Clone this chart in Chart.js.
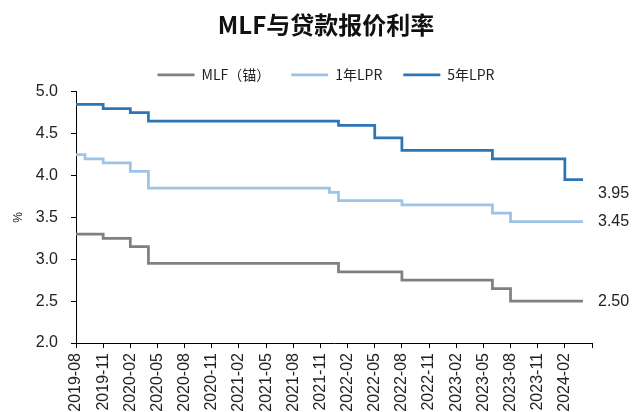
<!DOCTYPE html>
<html>
<head>
<meta charset="utf-8">
<script src="https://cdn.jsdelivr.net/npm/chart.js@4/dist/chart.umd.min.js"></script>
<style>
    body { margin: 0; background: #fff; }
</style>
</head>
<body>
<canvas id="graficaTasas" width="632" height="412"></canvas>
<script>
// Meses del eje: 2019-08 ... 2024-05 (el último sólo lleva la marca)
var meses = [];
for (var a = 2019, m = 8; a < 2024 || m <= 5; m++) {
    if (m > 12) { m = 1; a++; }
    meses.push(a + "-" + (m < 10 ? "0" + m : m));
}

// MLF (锚), mensual 2019-08 ... 2024-04
var valoresMLF = [
    3.30, 3.30, 3.30, 3.25, 3.25,
    3.25, 3.15, 3.15, 2.95, 2.95, 2.95, 2.95, 2.95, 2.95, 2.95, 2.95, 2.95,
    2.95, 2.95, 2.95, 2.95, 2.95, 2.95, 2.95, 2.95, 2.95, 2.95, 2.95, 2.95,
    2.85, 2.85, 2.85, 2.85, 2.85, 2.85, 2.85, 2.75, 2.75, 2.75, 2.75, 2.75,
    2.75, 2.75, 2.75, 2.75, 2.75, 2.65, 2.65, 2.50, 2.50, 2.50, 2.50, 2.50,
    2.50, 2.50, 2.50, 2.50
];

// 1年LPR
var valores1A = [
    4.25, 4.20, 4.20, 4.15, 4.15,
    4.15, 4.05, 4.05, 3.85, 3.85, 3.85, 3.85, 3.85, 3.85, 3.85, 3.85, 3.85,
    3.85, 3.85, 3.85, 3.85, 3.85, 3.85, 3.85, 3.85, 3.85, 3.85, 3.85, 3.80,
    3.70, 3.70, 3.70, 3.70, 3.70, 3.70, 3.70, 3.65, 3.65, 3.65, 3.65, 3.65,
    3.65, 3.65, 3.65, 3.65, 3.65, 3.55, 3.55, 3.45, 3.45, 3.45, 3.45, 3.45,
    3.45, 3.45, 3.45, 3.45
];

// 5年LPR
var valores5A = [
    4.85, 4.85, 4.85, 4.80, 4.80,
    4.80, 4.75, 4.75, 4.65, 4.65, 4.65, 4.65, 4.65, 4.65, 4.65, 4.65, 4.65,
    4.65, 4.65, 4.65, 4.65, 4.65, 4.65, 4.65, 4.65, 4.65, 4.65, 4.65, 4.65,
    4.60, 4.60, 4.60, 4.60, 4.45, 4.45, 4.45, 4.30, 4.30, 4.30, 4.30, 4.30,
    4.30, 4.30, 4.30, 4.30, 4.30, 4.20, 4.20, 4.20, 4.20, 4.20, 4.20, 4.20,
    4.20, 3.95, 3.95, 3.95
];

var nombres = ["MLF（锚）", "1年LPR", "5年LPR"];

// desplazamiento vertical de las etiquetas finales (para que no se monten)
var desplazaEtiqueta = [0, 0, 14];

var fuenteNum = "'Liberation Sans', Arial, sans-serif";
var fuenteCJK = "'Noto Sans CJK SC', 'Noto Sans', sans-serif";

// Etiquetas con el último valor a la derecha de cada serie
const etiquetasFinales = {
    id: "etiquetasFinales",
    afterDatasetsDraw(chart) {
        const ctx = chart.ctx;
        const y = chart.scales.y;
        ctx.save();
        ctx.font = "16px " + fuenteNum;
        ctx.fillStyle = "#222";
        ctx.textBaseline = "middle";
        chart.data.datasets.forEach(function (ds, i) {
            const v = ds.data[ds.data.length - 1];
            ctx.fillText(v.toFixed(2), chart.chartArea.right + 6, y.getPixelForValue(v) + desplazaEtiqueta[i]);
        });
        ctx.restore();
    }
};

function serie(nombre, datos, color) {
    return {
        label: nombre,
        data: datos,
        borderColor: color,
        backgroundColor: color,
        borderWidth: 2.75,
        stepped: true,
        pointRadius: 0,
        fill: false
    };
}

new Chart(document.getElementById("graficaTasas"), {
    type: "line",
    data: {
        labels: meses,
        datasets: [
            serie(nombres[0], valoresMLF, "#808080"),
            serie(nombres[1], valores1A, "#9dc3e6"),
            serie(nombres[2], valores5A, "#2e75b6")
        ]
    },
    options: {
        responsive: false,
        animation: false,
        layout: { padding: { left: 20, right: 0, top: 2, bottom: 0 } },
        plugins: {
            tooltip: { enabled: false },
            title: {
                display: true,
                text: "MLF与贷款报价利率",
                color: "#111",
                font: { family: fuenteCJK, size: 24, weight: "bold" },
                padding: { top: 8, bottom: 8 }
            },
            legend: {
                display: true,
                labels: {
                    usePointStyle: true,
                    pointStyle: "line",
                    pointStyleWidth: 37,
                    color: "#222",
                    font: { family: fuenteCJK, size: 14 },
                    padding: 21
                }
            }
        },
        scales: {
            x: {
                grid: {
                    drawOnChartArea: false,
                    tickLength: 5,
                    color: function (c) { return c.index % 3 === 0 ? "#000" : "rgba(0,0,0,0)"; }
                },
                border: { color: "#000" },
                ticks: {
                    autoSkip: false,
                    maxRotation: 90,
                    minRotation: 90,
                    padding: 5,
                    color: "#222",
                    font: { family: fuenteNum, size: 16 },
                    callback: function (val, i) {
                        if (i % 3 !== 0 || i === meses.length - 1) return "";
                        return meses[i];
                    }
                },
                afterFit: function (s) { s.height = 69; }
            },
            y: {
                min: 2,
                max: 5,
                grid: { drawOnChartArea: false, tickLength: 5, color: "#000" },
                border: { color: "#000" },
                ticks: {
                    stepSize: 0.5,
                    padding: 13,
                    color: "#222",
                    font: { family: fuenteNum, size: 16 },
                    callback: function (v) { return v.toFixed(1); }
                },
                title: {
                    display: true,
                    text: "%",
                    color: "#222",
                    font: { family: fuenteNum, size: 12 },
                    padding: { top: -9, bottom: 0 }
                },
                afterFit: function (s) { s.width = 56; }
            },
            y2: {
                position: "right",
                display: true,
                grid: { display: false },
                border: { display: false },
                ticks: { display: false },
                afterFit: function (s) { s.width = 40; }
            }
        }
    },
    plugins: [etiquetasFinales]
});
</script>
</body>
</html>
